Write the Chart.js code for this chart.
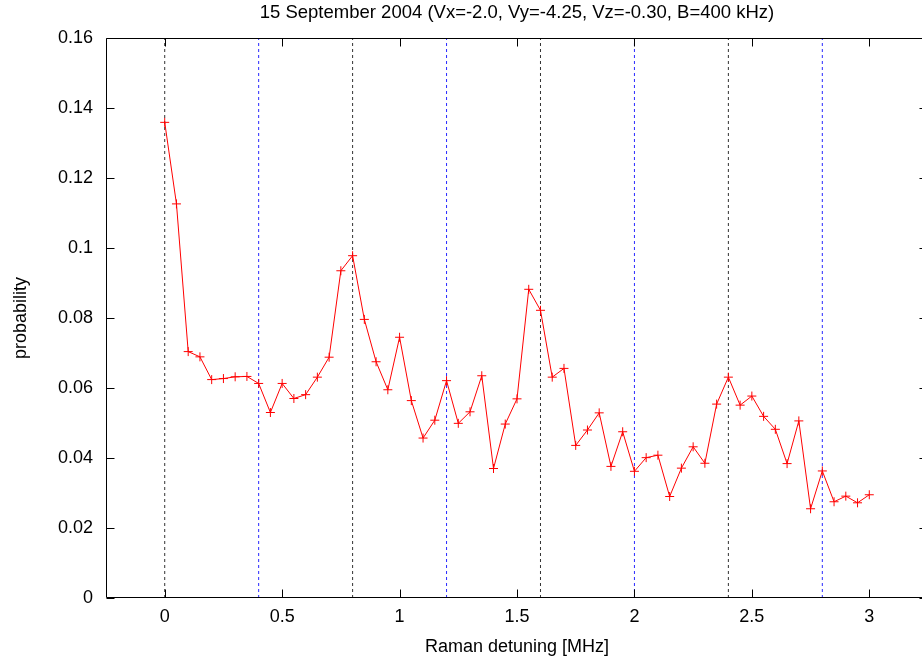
<!DOCTYPE html>
<html>
<head>
<meta charset="utf-8">
<script src="https://cdn.jsdelivr.net/npm/chart.js@4/dist/chart.umd.min.js"></script>
<style>
html,body{margin:0;padding:0;background:#fff;overflow:hidden}
canvas{display:block}
</style>
</head>
<body>
<canvas id="chart" width="940" height="660"></canvas>
<script>
// Raman detuning [MHz] and measured probability
const detuning = [0,0.05,0.1,0.15,0.2,0.25,0.3,0.35,0.4,0.45,0.5,0.55,0.6,0.65,0.7,0.75,
  0.8,0.85,0.9,0.95,1,1.05,1.1,1.15,1.2,1.25,1.3,1.35,1.4,1.45,1.5,1.55,1.6,1.65,1.7,1.75,
  1.8,1.85,1.9,1.95,2,2.05,2.1,2.15,2.2,2.25,2.3,2.35,2.4,2.45,2.5,2.55,2.6,2.65,2.7,2.75,
  2.8,2.85,2.9,2.95,3];
const probability = [0.1359,0.1126,0.0704,0.0689,0.0624,0.0627,0.0632,0.0633,0.0613,0.0530,
  0.0613,0.0570,0.0581,0.0631,0.0688,0.0935,
  0.0978,0.0796,0.0675,0.0595,0.0745,0.0564,0.0457,0.0508,0.0621,0.0499,0.0532,0.0635,
  0.0370,0.0497,0.0569,0.0882,0.0822,0.0631,0.0656,0.0436,0.0480,0.0529,0.0376,0.0475,
  0.0362,0.0401,0.0408,0.0290,0.0371,0.0432,0.0385,0.0554,0.0631,0.0551,0.0577,0.0519,
  0.0482,0.0384,0.0506,0.0255,0.0363,0.0275,0.0291,0.0272,0.0295];
const blackMarks = [0,0.8,1.6,2.4];
const blueMarks = [0.4,1.2,2.0,2.8];
const xTicks = [0,0.5,1,1.5,2,2.5,3];
const yTicks = [0,0.02,0.04,0.06,0.08,0.1,0.12,0.14,0.16];
const yTickLabels = ['0','0.02','0.04','0.06','0.08','0.1','0.12','0.14','0.16'];

Chart.defaults.font.family = "'Liberation Sans', Arial, sans-serif";
Chart.defaults.font.size = 18;
Chart.defaults.color = '#000';

function markLine(x,color){
  return {data:[{x:x,y:yTicks[0]},{x:x,y:yTicks[yTicks.length-1]}],showLine:true,
    borderColor:color,borderWidth:1,borderDash:[3,3],pointRadius:0,fill:false};
}

// gnuplot style box with inward ticks on all four sides
const frame = {
  id:'frame',
  afterDatasetsDraw(chart){
    const {ctx,chartArea:a,scales:{x,y}} = chart;
    const L=Math.round(a.left)+0.5, R=Math.round(a.right)-0.5, T=Math.round(a.top)+0.5, B=Math.round(a.bottom)-0.5;
    ctx.save();
    ctx.setLineDash([]);
    ctx.strokeStyle='#000'; ctx.lineWidth=1;
    ctx.beginPath();
    ctx.moveTo(L,T); ctx.lineTo(R,T); ctx.lineTo(R,B); ctx.lineTo(L,B); ctx.closePath();
    xTicks.forEach(v=>{
      const p=Math.round(x.getPixelForValue(v))+0.5;
      ctx.moveTo(p,B); ctx.lineTo(p,B-8);
      ctx.moveTo(p,T); ctx.lineTo(p,T+8);
    });
    yTicks.forEach(v=>{
      const p=Math.round(y.getPixelForValue(v))+0.5;
      ctx.moveTo(L,p); ctx.lineTo(L+8,p);
      ctx.moveTo(R,p); ctx.lineTo(R-8,p);
    });
    ctx.stroke();
    ctx.restore();
  }
};

const datasets = [{
  data: detuning.map((d,i)=>({x:d,y:probability[i]})),
  showLine:true, borderColor:'#ff0000', borderWidth:1,
  pointStyle:'cross', pointRadius:4.5, pointBorderWidth:1,
  pointBorderColor:'#ff0000', pointBackgroundColor:'#ff0000'
}];
blackMarks.forEach(v=>datasets.push(markLine(v,'#333333')));
blueMarks.forEach(v=>datasets.push(markLine(v,'#2a2aff')));

new Chart(document.getElementById('chart'),{
  type:'scatter',
  data:{datasets},
  options:{
    responsive:false,
    animation:false,
    layout:{padding:{top:0,left:0,right:12,bottom:0}},
    plugins:{
      legend:{display:false},
      tooltip:{enabled:false},
      title:{display:true,fullSize:false,text:'15 September 2004 (Vx=-2.0, Vy=-4.25, Vz=-0.30, B=400 kHz)',
        font:{size:18.5,weight:'normal'},color:'#000',padding:{top:2.2,bottom:13.6}}
    },
    scales:{
      x:{
        type:'linear',min:-0.25,max:3.25,
        afterBuildTicks:s=>{s.ticks=xTicks.map(v=>({value:v}));},
        afterFit:s=>{s.height=62;},
        grid:{display:false,drawTicks:false},border:{display:false},
        ticks:{padding:8,maxRotation:0,autoSkip:false,callback:v=>String(v)},
        title:{display:true,text:'Raman detuning [MHz]',padding:{top:0,bottom:2.2}}
      },
      y:{
        type:'linear',min:0,max:0.16,
        afterBuildTicks:s=>{s.ticks=yTicks.map(v=>({value:v}));},
        afterFit:s=>{s.width=106;},
        grid:{display:false,drawTicks:false},border:{display:false},
        ticks:{padding:13,autoSkip:false,callback:(v,i)=>yTickLabels[i]},
        title:{display:true,text:'probability',padding:{top:10.2,bottom:0}}
      }
    }
  },
  plugins:[frame]
});
</script>
</body>
</html>
